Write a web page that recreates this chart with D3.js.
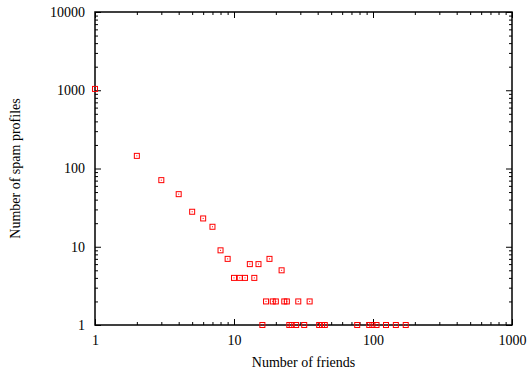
<!DOCTYPE html>
<html>
<head>
<meta charset="utf-8">
<script src="https://cdn.jsdelivr.net/npm/d3@7"></script>
<style>
  body { margin: 0; background: #fff; }
  svg { display: block; font-family: "Liberation Serif", "DejaVu Serif", serif; }
</style>
</head>
<body>
<div id="chart"></div>
<script>
// number of friends vs number of spam profiles (log-log)
const friends  = [1, 2, 3, 4, 5, 6, 7, 8, 9, 10, 11, 12, 13, 14, 15, 16, 17, 18, 19, 20,
                  22, 23, 24, 25, 26, 28, 29, 32, 35, 41, 43, 45, 77, 94, 99, 106, 124, 146, 172]
const profiles = [1040, 145, 71, 47, 28, 23, 18, 9, 7, 4, 4, 4, 6, 4, 6, 1, 2, 7, 2, 2,
                  5, 2, 2, 1, 1, 1, 2, 1, 2, 1, 1, 1, 1, 1, 1, 1, 1, 1, 1]
const xTicks = [1, 10, 100, 1000]
const yTicks = [1, 10, 100, 1000, 10000]

const width = 528
const height = 372
const margin = {top: 12, right: 16, bottom: 47, left: 95}

const x = d3.scaleLog()
  .domain([1, 1000])
  .range([margin.left, width - margin.right])
const y = d3.scaleLog()
  .domain([1, 10000])
  .range([height - margin.bottom, margin.top])

// minor ticks 2..9 in every decade
const minors = (ticks) => d3.merge(ticks.slice(0, -1).map((t) => d3.range(2, 10).map((k) => t * k)))

const svg = d3.select('#chart').append('svg')
  .attr('width', width)
  .attr('height', height)

const styleAxis = (g) => {
  g.select('.domain').remove()
  g.selectAll('line').attr('stroke', '#000').attr('stroke-width', 1)
  g.selectAll('text').attr('font-size', 14).attr('fill', '#000')
    .attr('font-family', '"Liberation Serif", serif')
}

const x0 = x.range()[0], x1 = x.range()[1]
const y0 = y.range()[0], y1 = y.range()[1]

// bottom + top
svg.append('g').attr('transform', `translate(0,${y0})`)
  .call(d3.axisBottom(x).tickValues(xTicks).tickFormat(d3.format('d')).tickSizeInner(-6).tickSizeOuter(0).tickPadding(10))
  .call(styleAxis)
svg.append('g').attr('transform', `translate(0,${y0})`)
  .call(d3.axisBottom(x).tickValues(minors(xTicks)).tickFormat('').tickSizeInner(-3).tickSizeOuter(0))
  .call(styleAxis)
svg.append('g').attr('transform', `translate(0,${y1})`)
  .call(d3.axisTop(x).tickValues(xTicks).tickFormat('').tickSizeInner(-6).tickSizeOuter(0))
  .call(styleAxis)
svg.append('g').attr('transform', `translate(0,${y1})`)
  .call(d3.axisTop(x).tickValues(minors(xTicks)).tickFormat('').tickSizeInner(-3).tickSizeOuter(0))
  .call(styleAxis)

// left + right
svg.append('g').attr('transform', `translate(${x0},0)`)
  .call(d3.axisLeft(y).tickValues(yTicks).tickFormat(d3.format('d')).tickSizeInner(-6).tickSizeOuter(0).tickPadding(10))
  .call(styleAxis)
svg.append('g').attr('transform', `translate(${x0},0)`)
  .call(d3.axisLeft(y).tickValues(minors(yTicks)).tickFormat('').tickSizeInner(-3).tickSizeOuter(0))
  .call(styleAxis)
svg.append('g').attr('transform', `translate(${x1},0)`)
  .call(d3.axisRight(y).tickValues(yTicks).tickFormat('').tickSizeInner(-6).tickSizeOuter(0))
  .call(styleAxis)
svg.append('g').attr('transform', `translate(${x1},0)`)
  .call(d3.axisRight(y).tickValues(minors(yTicks)).tickFormat('').tickSizeInner(-3).tickSizeOuter(0))
  .call(styleAxis)

// frame
svg.append('rect')
  .attr('x', x0).attr('y', y1)
  .attr('width', x1 - x0).attr('height', y0 - y1)
  .attr('fill', 'none').attr('stroke', '#000').attr('stroke-width', 1.5)

// points: open red squares with centre dot
const pts = svg.append('g').selectAll('g').data(d3.zip(friends, profiles))
  .enter().append('g')
    .attr('transform', (d) => `translate(${x(d[0])},${y(d[1])})`)
pts.append('rect')
  .attr('x', -2.5).attr('y', -2.5).attr('width', 5).attr('height', 5)
  .attr('fill', 'none').attr('stroke', '#f00').attr('stroke-width', 1)
pts.append('rect')
  .attr('x', -0.5).attr('y', -0.5).attr('width', 1).attr('height', 1)
  .attr('fill', '#f00')

// axis titles
svg.append('text')
  .attr('x', (x0 + x1) / 2).attr('y', 367)
  .attr('text-anchor', 'middle').attr('font-size', 14)
  .text('Number of friends')
svg.append('text')
  .attr('transform', 'rotate(-90)')
  .attr('x', -(y0 + y1) / 2).attr('y', 20)
  .attr('text-anchor', 'middle').attr('font-size', 14)
  .text('Number of spam profiles')
</script>
</body>
</html>
